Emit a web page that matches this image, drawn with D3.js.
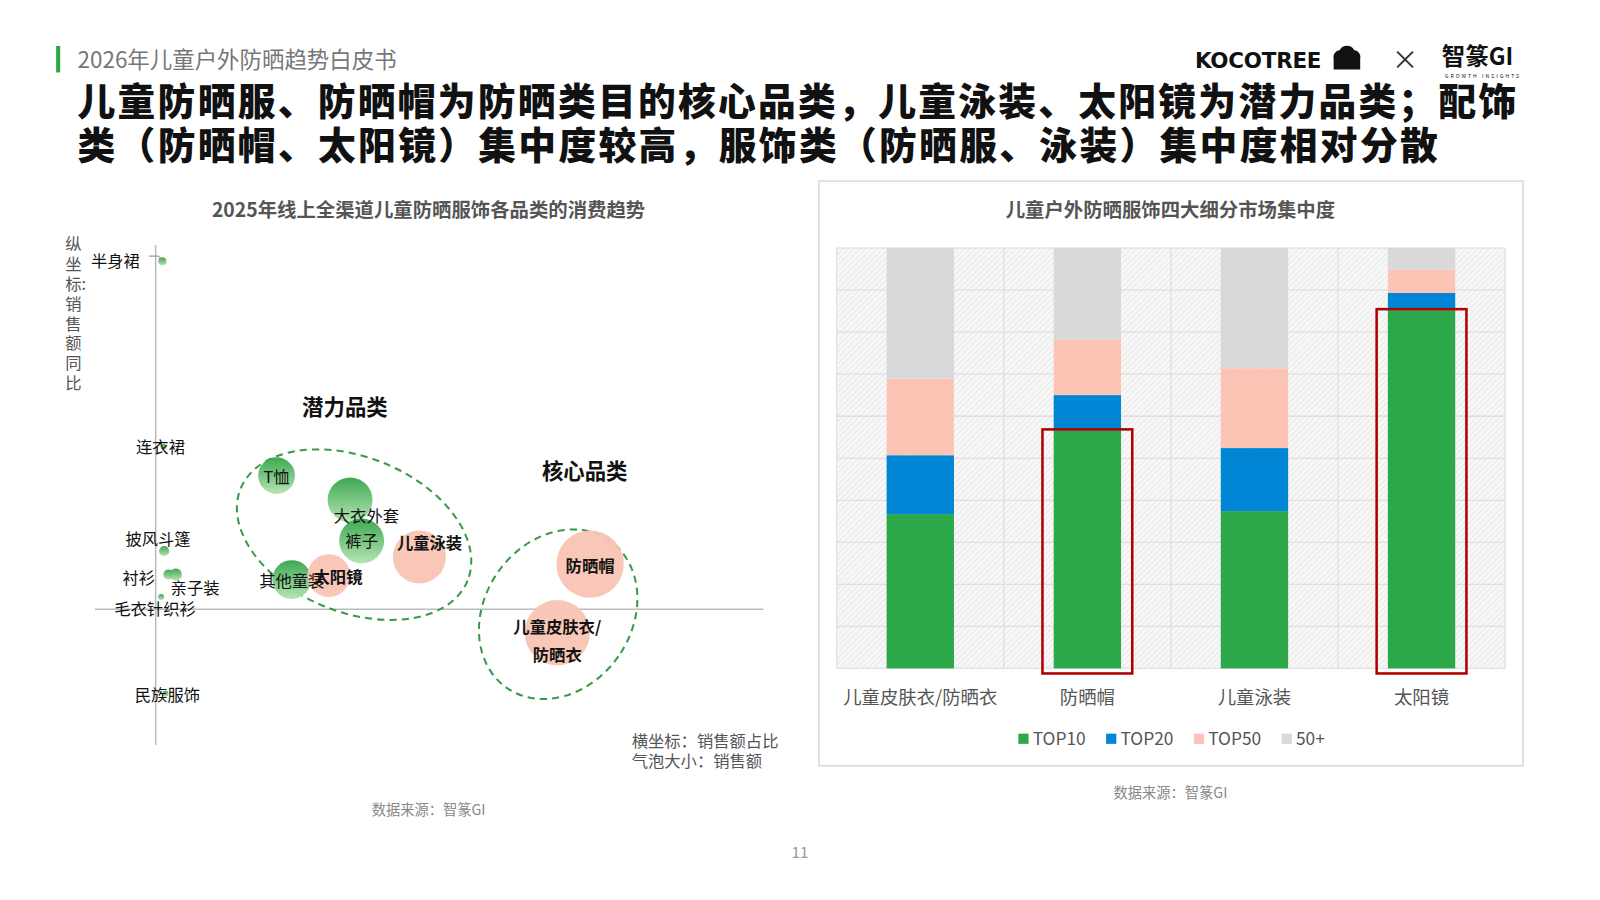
<!DOCTYPE html>
<html><head><meta charset="utf-8">
<script src="https://cdn.jsdelivr.net/npm/d3@7"></script>
<style>body{margin:0;background:#fff;font-family:"Noto Sans CJK SC","Noto Sans",sans-serif;}</style>
</head><body><svg id="c" width="1600" height="900"></svg>
<script>
// bubble chart data: share (%), growth (%), sales
const bubbleNames = ["半身裙","连衣裙","披风斗篷","衬衫","亲子装","毛衣针织衫","民族服饰","T恤","大衣外套","裤子","其他童装","太阳镜","儿童泳装","防晒帽","儿童皮肤衣/防晒衣"];
const bubbleShare = [0.11,0.13,0.14,0.21,0.33,0.09,0.16,1.99,3.2,3.39,2.24,2.85,4.34,7.15,6.61];
const bubbleGrowth = [97.4,45.4,16.3,9.7,9.7,3.4,-23.7,37.4,30.6,19.1,8.3,9.4,14.6,12.6,-6.6];
const bubbleSales = [16,9,25,25,36,9,9,327,489,489,365,445,683,1100,1034];
const bubbleSun = [0,0,0,0,0,0,0,0,0,0,0,1,1,1,1];
// bar chart data (%)
const barCats = ["儿童皮肤衣/防晒衣","防晒帽","儿童泳装","太阳镜"];
const seriesNames = ["TOP10","TOP20","TOP50","50+"];
const top10 = [36.7,56.6,37.4,85.2];
const top20 = [14.0,8.4,15.0,4.1];
const top50 = [18.2,13.2,19.0,5.6];
const rest = [31.1,21.8,28.6,5.1];
const seriesColors = ["#2ca84a","#0086d4","#fbc4b4","#d9d9d9"];

const root = d3.select("#c");
const defs = root.append("defs");
const gg = defs.append("linearGradient").attr("id","gb").attr("x1",0).attr("y1",0).attr("x2",0).attr("y2",1);
gg.append("stop").attr("offset","0%").attr("stop-color","#34a348");
gg.append("stop").attr("offset","100%").attr("stop-color","#b2e4b0");
const pat = defs.append("pattern").attr("id","hatch").attr("width",4).attr("height",4)
  .attr("patternUnits","userSpaceOnUse").attr("patternTransform","rotate(45)");
pat.append("rect").attr("width",4).attr("height",4).attr("fill","#f7f7f7");
pat.append("line").attr("x1",0).attr("y1",0).attr("x2",0).attr("y2",4).attr("stroke","#dcdcdc").attr("stroke-width",1);
const svg = root.append("g").attr("transform","scale(1.0204)");

// header
svg.append("rect").attr("x",55).attr("y",45).attr("width",4).attr("height",26).attr("fill","#2ca84a");
svg.append("text").attr("x",76).attr("y",67).attr("font-size",22).attr("fill","#777").text("2026年儿童户外防晒趋势白皮书");
svg.append("text").attr("x",76).attr("y",113).attr("font-size",37).attr("font-weight",900).attr("fill","#111")
  .attr("textLength",1410).attr("lengthAdjust","spacing")
  .text("儿童防晒服、防晒帽为防晒类目的核心品类，儿童泳装、太阳镜为潜力品类；配饰");
svg.append("text").attr("x",76).attr("y",156).attr("font-size",37).attr("font-weight",900).attr("fill","#111")
  .attr("textLength",1333).attr("lengthAdjust","spacing")
  .text("类（防晒帽、太阳镜）集中度较高，服饰类（防晒服、泳装）集中度相对分散");
svg.append("text").attr("x",1171).attr("y",67).attr("font-size",21).attr("font-weight",900).attr("font-family","DejaVu Sans").attr("fill","#111")
  .attr("textLength",124).text("KOCOTREE");
svg.append("path").attr("d","M1307,68 v-10 a7,7 0 0 1 6,-9 a8,8 0 0 1 14,0 a7,7 0 0 1 6,9 v10 z").attr("fill","#111");
svg.append("text").attr("x",1364).attr("y",68).attr("font-size",26).attr("fill","#333").text("×");
svg.append("text").attr("x",1413).attr("y",64).attr("font-size",23).attr("font-weight",700).attr("fill","#111").text("智篆GI");
svg.append("text").attr("x",1416).attr("y",76).attr("font-size",5).attr("letter-spacing",2).attr("fill","#111").text("GROWTH INSIGHTS");

// ---- bubble chart ----
svg.append("text").attr("x",420).attr("y",213).attr("text-anchor","middle").attr("font-size",19).attr("font-weight",700).attr("fill","#555")
  .text("2025年线上全渠道儿童防晒服饰各品类的消费趋势");
const x = d3.scaleLinear().domain([-1,10]).range([93,748]);
const y = d3.scaleLinear().domain([-38,102]).range([730,240]);
const r = d3.scaleSqrt().domain([0,1100]).range([0,33]);
svg.append("line").attr("x1",x(-1)).attr("x2",x(10)).attr("y1",y(0)).attr("y2",y(0)).attr("stroke","#bbb").attr("stroke-width",1.5);
svg.append("line").attr("x1",x(0)).attr("x2",x(0)).attr("y1",y(102)).attr("y2",y(-38)).attr("stroke","#bbb").attr("stroke-width",1.5);
["纵","坐","标:","销","售","额","同","比"].forEach((ch,i)=>svg.append("text").attr("x",64).attr("y",245+i*19.5).attr("font-size",16).attr("fill","#555").text(ch));

const bub = bubbleNames.map((n,i)=>({n,x:bubbleShare[i],y:bubbleGrowth[i],s:bubbleSales[i],sun:bubbleSun[i]}));
svg.append("ellipse").attr("cx",347).attr("cy",524).attr("rx",120).attr("ry",76).attr("transform","rotate(22,347,524)")
  .attr("fill","none").attr("stroke","#3a9a4c").attr("stroke-width",2).attr("stroke-dasharray","7,5");
svg.append("ellipse").attr("cx",547).attr("cy",602).attr("rx",72).attr("ry",88).attr("transform","rotate(35,547,602)")
  .attr("fill","none").attr("stroke","#3a9a4c").attr("stroke-width",2).attr("stroke-dasharray","7,5");
svg.selectAll(".bub").data(bub).enter().append("circle")
  .attr("cx",d=>x(d.x)).attr("cy",d=>y(d.y)).attr("r",d=>r(d.s))
  .attr("fill",d=>d.sun?"#f9c4b3":"url(#gb)").attr("opacity",0.95);
// label offsets [dx,dy,bold]
const lab = {"半身裙":[-46,0,0],"连衣裙":[-3,0,0],"披风斗篷":[-6,-12,0],"衬衫":[-29,3,0],"亲子装":[19,13,0],"毛衣针织衫":[-6,12,0],"民族服饰":[2,1,0],
  "T恤":[0,1,0],"大衣外套":[16,16,0],"裤子":[0,0,0],"其他童装":[0,1,0],"太阳镜":[9,1,1],"儿童泳装":[10,-14,1],"防晒帽":[0,2,1],"儿童皮肤衣/防晒衣":[0,8,1]};
bub.forEach(d=>{
  const o = lab[d.n], cx = x(d.x)+o[0], cy = y(d.y)+o[1];
  const lines = d.n.includes("/") ? ["儿童皮肤衣/","防晒衣"] : [d.n];
  lines.forEach((t,i)=>svg.append("text").attr("x",cx).attr("y",cy+6+(lines.length>1?(i-0.5)*27:0))
    .attr("text-anchor","middle").attr("font-size",16).attr("font-weight",o[2]?700:400).attr("fill","#111").text(t));
});
svg.append("path").attr("d",`M146,251 H155 L${x(0.11)},${y(97.4)-2}`).attr("fill","none").attr("stroke","#999");
svg.append("text").attr("x",338).attr("y",407).attr("text-anchor","middle").attr("font-size",21).attr("font-weight",700).attr("fill","#111").text("潜力品类");
svg.append("text").attr("x",573).attr("y",469).attr("text-anchor","middle").attr("font-size",21).attr("font-weight",700).attr("fill","#111").text("核心品类");
svg.append("text").attr("x",619).attr("y",732).attr("font-size",16).attr("fill","#555").text("横坐标：销售额占比");
svg.append("text").attr("x",619).attr("y",752).attr("font-size",16).attr("fill","#555").text("气泡大小：销售额");
svg.append("text").attr("x",420).attr("y",799).attr("text-anchor","middle").attr("font-size",14).attr("fill","#888").text("数据来源：智篆GI");

// ---- bar chart ----
svg.append("rect").attr("x",802.5).attr("y",177.5).attr("width",690).attr("height",573).attr("fill","#fff").attr("stroke","#d9d9d9").attr("stroke-width",1.5);
svg.append("text").attr("x",1147).attr("y",213).attr("text-anchor","middle").attr("font-size",19).attr("font-weight",700).attr("fill","#555").text("儿童户外防晒服饰四大细分市场集中度");
const bx = d3.scaleBand().domain(barCats).range([820,1475]);
const by = d3.scaleLinear().domain([0,100]).range([655,243]);
svg.append("rect").attr("x",820).attr("y",243).attr("width",655).attr("height",412).attr("fill","url(#hatch)");
svg.append("g").selectAll("line").data(d3.range(0,101,10)).enter().append("line")
  .attr("x1",820).attr("x2",1475).attr("y1",d=>by(d)).attr("y2",d=>by(d)).attr("stroke","#d9d9d9");
svg.append("g").selectAll("line").data(d3.range(0,9)).enter().append("line")
  .attr("y1",243).attr("y2",655).attr("x1",d=>820+d*655/8).attr("x2",d=>820+d*655/8).attr("stroke","#d9d9d9");
const rows = barCats.map((c,i)=>({cat:c,TOP10:top10[i],TOP20:top20[i],TOP50:top50[i],"50+":rest[i]}));
const stack = d3.stack().keys(seriesNames)(rows);
const bw = 66;
svg.append("g").selectAll("g").data(stack).enter().append("g").attr("fill",(d,i)=>seriesColors[i])
  .selectAll("rect").data(d=>d).enter().append("rect")
  .attr("x",d=>bx(d.data.cat)+bx.bandwidth()/2-bw/2).attr("width",bw)
  .attr("y",d=>by(d[1])).attr("height",d=>by(d[0])-by(d[1]));
[1,3].forEach(i=>svg.append("rect").attr("x",bx(barCats[i])+bx.bandwidth()/2-44).attr("width",88)
  .attr("y",by(top10[i])-1).attr("height",by(0)-by(top10[i])+6).attr("fill","none").attr("stroke","#b00000").attr("stroke-width",2.5));
svg.append("g").attr("transform","translate(0,655)").call(d3.axisBottom(bx).tickSize(0))
  .call(g=>g.select(".domain").remove())
  .selectAll("text").attr("dy","1.8em").attr("font-size",18).attr("fill","#555").attr("font-family","Noto Sans CJK SC");
const lx = [998,1084,1170,1256];
seriesNames.forEach((s,i)=>{
  svg.append("rect").attr("x",lx[i]).attr("y",719).attr("width",10).attr("height",10).attr("fill",seriesColors[i]);
  svg.append("text").attr("x",lx[i]+14).attr("y",730).attr("font-size",17).attr("fill","#555").text(s);
});
svg.append("text").attr("x",1147).attr("y",782).attr("text-anchor","middle").attr("font-size",14).attr("fill","#888").text("数据来源：智篆GI");
svg.append("text").attr("x",784).attr("y",841).attr("text-anchor","middle").attr("font-size",15).attr("fill","#999").text("11");
</script></body></html>
